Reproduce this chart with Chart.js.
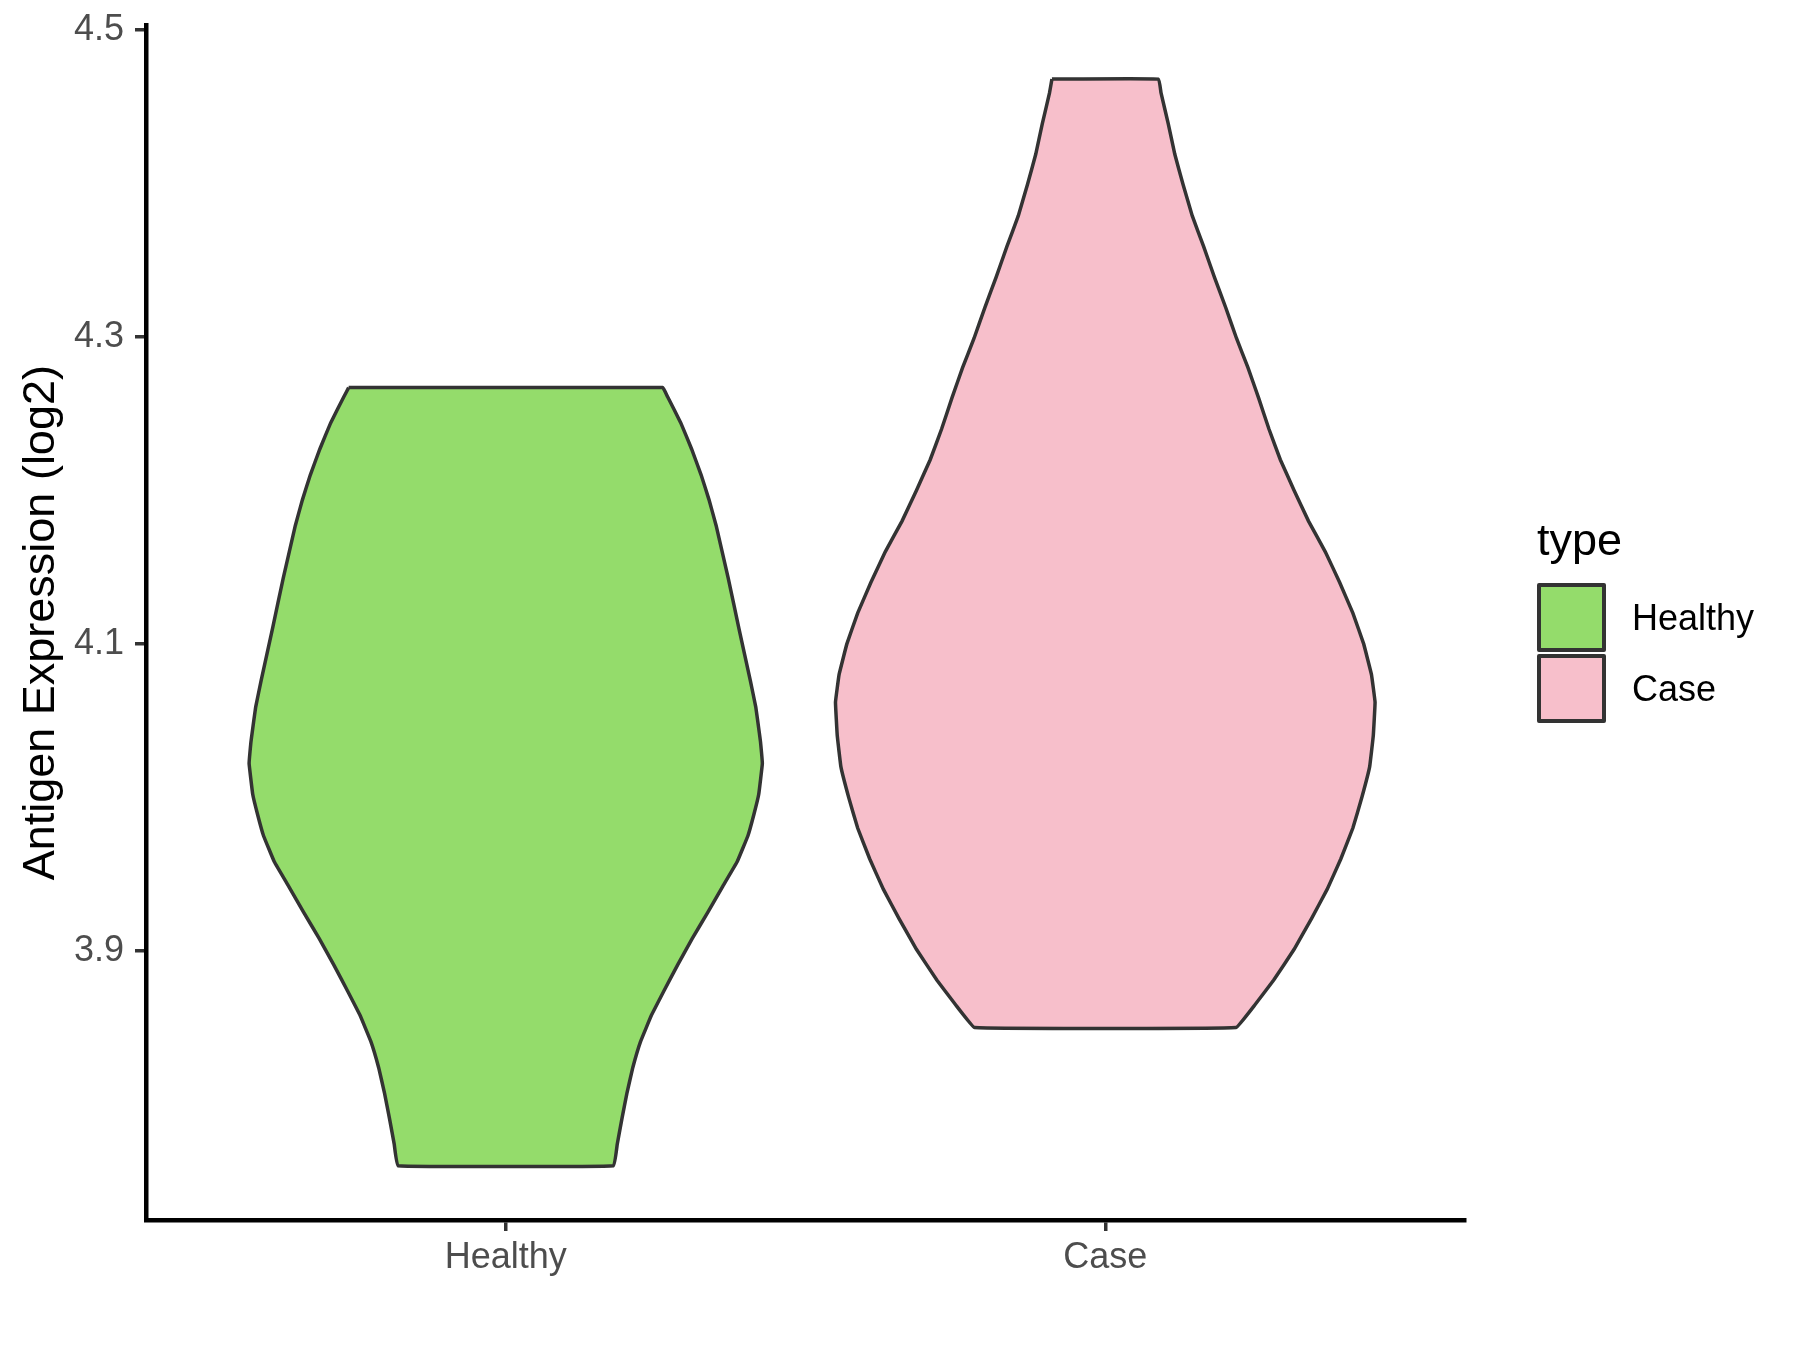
<!DOCTYPE html>
<html>
<head>
<meta charset="utf-8">
<title>Antigen Expression</title>
<script src="https://cdn.jsdelivr.net/npm/chart.js@4.4.1/dist/chart.umd.min.js"></script>
<style>
    body { margin: 0; background: #fff; }
    #wrap { position: relative; width: 1800px; height: 1350px; font-family: "Liberation Sans", Arial, sans-serif; }
    #violinChart { position: absolute; left: 0; top: 0; }
    .legend-title { position: absolute; left: 1537px; top: 517px; font-size: 45px; line-height: 45px; color: #000; }
    .legend-key { position: absolute; left: 1537px; width: 69px; height: 69px; box-sizing: border-box; border: 4px solid #333; border-radius: 2px; }
    .legend-label { position: absolute; left: 1632px; height: 69px; line-height: 69px; font-size: 36px; color: #000; }
</style>
</head>
<body>
<div id="wrap">
    <canvas id="violinChart" width="1800" height="1350"></canvas>
    <div id="legend"></div>
</div>
<script>
// categories on the x axis and legend
const categories = ["Healthy", "Case"];
const fillColors = ["#94DC6B", "#F7BFCB"];
const yTicks = [3.9, 4.1, 4.3, 4.5];

// violin outlines: y value and half width (x axis units)
const healthyY = [4.267, 4.261, 4.244, 4.227, 4.210, 4.194, 4.177, 4.143, 4.110, 4.076,
    4.059, 4.042, 4.036, 4.022, 4.002, 3.989, 3.975, 3.958, 3.942, 3.925,
    3.908, 3.891, 3.874, 3.858, 3.841, 3.824, 3.807, 3.791, 3.774, 3.760];
const healthyHalfWidth = [0.262, 0.270, 0.292, 0.310, 0.326, 0.339, 0.351, 0.371, 0.389, 0.408,
    0.417, 0.423, 0.425, 0.428, 0.422, 0.414, 0.404, 0.386, 0.362, 0.337,
    0.311, 0.287, 0.264, 0.243, 0.225, 0.212, 0.202, 0.194, 0.186, 0.180];

const caseY = [4.468, 4.459, 4.439, 4.419, 4.399, 4.379, 4.359, 4.339, 4.319, 4.299,
    4.280, 4.260, 4.240, 4.220, 4.200, 4.180, 4.160, 4.140, 4.120, 4.100,
    4.080, 4.062, 4.040, 4.020, 4.000, 3.980, 3.960, 3.940, 3.921, 3.901,
    3.881, 3.865, 3.850];
const caseHalfWidth = [0.089, 0.093, 0.105, 0.116, 0.130, 0.145, 0.164, 0.182, 0.201, 0.219,
    0.238, 0.256, 0.273, 0.292, 0.315, 0.339, 0.367, 0.391, 0.413, 0.431,
    0.444, 0.450, 0.447, 0.441, 0.428, 0.413, 0.393, 0.370, 0.344, 0.315,
    0.281, 0.250, 0.218];

const fontFamily = '"Liberation Sans", Arial, sans-serif';

// closed outline: down the left side, back up the right side
function violinOutline(pos, ys, widths) {
    const left = ys.map((y, i) => ({ x: pos - widths[i], y: y }));
    const right = ys.map((y, i) => ({ x: pos + widths[i], y: y })).reverse();
    return [...left, ...right, left[0]];
}

function violinDataset(index, ys, widths) {
    return {
        label: categories[index],
        data: violinOutline(index + 1, ys, widths),
        showLine: true,
        fill: "shape",
        backgroundColor: fillColors[index],
        borderColor: "#333333",
        borderWidth: 3.5,
        borderJoinStyle: "miter",
        tension: 0.06,
        pointRadius: 0
    };
}

const ctx = document.getElementById("violinChart").getContext("2d");
new Chart(ctx, {
    type: "scatter",
    data: {
        datasets: [
            violinDataset(0, healthyY, healthyHalfWidth),
            violinDataset(1, caseY, caseHalfWidth)
        ]
    },
    options: {
        responsive: false,
        animation: false,
        devicePixelRatio: 1,
        layout: { padding: { left: 0, top: 18, right: 335, bottom: 0 } },
        plugins: {
            legend: { display: false },
            tooltip: { enabled: false }
        },
        scales: {
            x: {
                type: "linear",
                min: 0.4,
                max: 2.6,
                afterBuildTicks: axis => { axis.ticks = categories.map((c, i) => ({ value: i + 1 })); },
                afterFit: axis => { axis.height = 130; },
                ticks: {
                    callback: value => categories[Math.round(value) - 1],
                    color: "#4D4D4D",
                    font: { family: fontFamily, size: 36 },
                    padding: 5,
                    autoSkip: false,
                    maxRotation: 0
                },
                grid: { drawOnChartArea: false, drawTicks: true, tickLength: 11, color: "#333333", lineWidth: 3.5 },
                border: { display: true, color: "#000000", width: 4.5 }
            },
            y: {
                type: "linear",
                min: 3.7246,
                max: 4.503,
                afterBuildTicks: axis => { axis.ticks = yTicks.map(v => ({ value: v })); },
                afterFit: axis => { axis.width = 146; },
                ticks: {
                    callback: value => value.toFixed(1),
                    color: "#4D4D4D",
                    font: { family: fontFamily, size: 36, lineHeight: 0.8 },
                    padding: 11
                },
                grid: { drawOnChartArea: false, drawTicks: true, tickLength: 11, color: "#333333", lineWidth: 3.5 },
                border: { display: true, color: "#000000", width: 4.5 },
                title: {
                    display: true,
                    text: "Antigen Expression (log2)",
                    color: "#000000",
                    font: { family: fontFamily, size: 45 },
                    padding: { top: 15, bottom: 0 }
                }
            }
        }
    }
});

// Legend (html, placed to the right of the panel)
const legend = document.getElementById("legend");
legend.innerHTML = `<div class="legend-title">type</div>`;
categories.forEach((name, i) => {
    const top = 583 + i * 71;
    legend.innerHTML += `
        <div class="legend-key" style="top:${top}px; background:${fillColors[i]}"></div>
        <div class="legend-label" style="top:${top}px">${name}</div>
    `;
});
</script>
</body>
</html>
